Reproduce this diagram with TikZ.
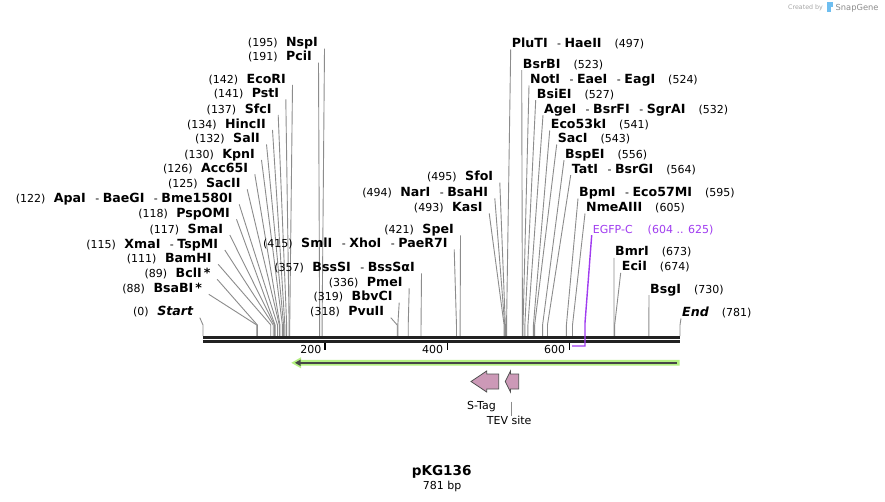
\documentclass[tikz,border=0pt]{standalone}
\usepackage{fontspec}
\setmainfont{DejaVu Sans}
\usetikzlibrary{calc}
\definecolor{connc}{RGB}{140,140,140}
\definecolor{barc}{RGB}{34,34,34}
\definecolor{egfpc}{RGB}{160,60,240}
\definecolor{orfg}{RGB}{180,240,130}
\definecolor{orfd}{RGB}{70,70,70}
\definecolor{featc}{RGB}{204,153,183}
\definecolor{featl}{RGB}{80,80,80}
\definecolor{sgblue}{RGB}{110,190,240}
\newcommand\NB[1]{{\fontsize{12.6bp}{14bp}\selectfont\bfseries #1}}
\newcommand\SEP{\hspace{9.5bp}-\hspace{3.5bp}}
% left-type label: name, position, text, x of text end, y centre
\newcommand\LL[5]{%
  \node[lab,anchor=base east] (#1) at (#4,#5+4.2) {(#2)\hspace{8.5bp}#3};
  \coordinate (#1p) at ({203+#2*0.61076},325);
  \draw[cline] ([shift={(6.5,1.8)}]#1.base east) -- (#1p) -- ++(0,11);
}
% right-type label: name, position, text, x of text start, y centre
\newcommand\RL[5]{%
  \node[lab,anchor=base west] (#1) at (#4,#5+4.2) {#3\hspace{13bp}(#2)};
  \coordinate (#1p) at ({203+#2*0.61076},325);
  \draw[cline] ([shift={(-1,2)}]#1.base west) -- (#1p) -- ++(0,11);
}
\begin{document}
\begin{tikzpicture}[x=1bp,y=-1bp,
  lab/.style={inner sep=0pt,font=\fontsize{11bp}{13bp}\selectfont},
  cline/.style={draw=connc,line width=0.9bp},
  tickm/.style={draw=black,line width=1.6bp},
  featshape/.style={fill=featc,draw=featl,line width=0.8bp,line join=miter}]
\fill[white] (0,0) rectangle (885,502);
\useasboundingbox (0,0) rectangle (885,502);

% left labels
\LL{nsp}{195}{\NB{NspI}}{318}{42.7}
\LL{pci}{191}{\NB{PciI}}{312}{56.7}
\LL{eco}{142}{\NB{EcoRI}}{286}{79}
\LL{pst}{141}{\NB{PstI}}{279.3}{93.3}
\LL{sfc}{137}{\NB{SfcI}}{271.7}{109}
\LL{hinc}{134}{\NB{HincII}}{266}{124}
\LL{sal}{132}{\NB{SalI}}{260}{138.3}
\LL{kpn}{130}{\NB{KpnI}}{255}{154}
\LL{acc}{126}{\NB{Acc65I}}{248.3}{168.3}
\LL{sactwo}{125}{\NB{SacII}}{240.7}{183.3}
\LL{apa}{122}{\NB{ApaI}\SEP\NB{BaeGI}\SEP\NB{Bme1580I}}{232.7}{198.3}
\LL{psp}{118}{\NB{PspOMI}}{230}{213.3}
\LL{sma}{117}{\NB{SmaI}}{223.3}{229}
\LL{xma}{115}{\NB{XmaI}\SEP\NB{TspMI}}{218.3}{244}
\LL{bam}{111}{\NB{BamHI}}{211.7}{258.3}
\LL{bcl}{89}{\NB{BclI\,*}}{210.7}{273.3}
\LL{bsab}{88}{\NB{BsaBI\,*}}{202.3}{288.3}
\LL{startl}{0}{\NB{\itshape Start}}{193.3}{311.7}

% middle labels
\LL{sfo}{495}{\NB{SfoI}}{493.3}{176.7}
\LL{nar}{494}{\NB{NarI}\SEP\NB{BsaHI}}{488.3}{192.3}
\LL{kas}{493}{\NB{KasI}}{482.7}{207.3}
\LL{spe}{421}{\NB{SpeI}}{454}{229.3}
\LL{sml}{415}{\NB{SmlI}\SEP\NB{XhoI}\SEP\NB{PaeR7I}}{447.7}{243.3}
\LL{bsss}{357}{\NB{BssSI}\SEP\NB{BssSαI}}{415}{267.3}
\LL{pme}{336}{\NB{PmeI}}{402.7}{282.3}
\LL{bbv}{319}{\NB{BbvCI}}{392.7}{296.7}
\LL{pvu}{318}{\NB{PvuII}}{384.3}{311.7}

% right labels
\RL{plu}{497}{\NB{PluTI}\SEP\NB{HaeII}}{511.7}{43.3}
\RL{bsrb}{523}{\NB{BsrBI}}{522.7}{64}
\RL{notl}{524}{\NB{NotI}\SEP\NB{EaeI}\SEP\NB{EagI}}{530}{79.3}
\RL{bsie}{527}{\NB{BsiEI}}{536.7}{94}
\RL{age}{532}{\NB{AgeI}\SEP\NB{BsrFI}\SEP\NB{SgrAI}}{544}{109}
\RL{ecofs}{541}{\NB{Eco53kI}}{550.7}{124.3}
\RL{sac}{543}{\NB{SacI}}{557.7}{138.3}
\RL{bspe}{556}{\NB{BspEI}}{565}{154}
\RL{tat}{564}{\NB{TatI}\SEP\NB{BsrGI}}{571.7}{169}
\RL{bpm}{595}{\NB{BpmI}\SEP\NB{Eco57MI}}{579}{192.3}
\RL{nme}{605}{\NB{NmeAIII}}{586}{207.3}
\RL{bmr}{673}{\NB{BmrI}}{615}{251.7}
\RL{eci}{674}{\NB{EciI}}{621.7}{266.7}
\RL{bsg}{730}{\NB{BsgI}}{650}{289}
\RL{endl}{781}{\NB{\itshape End}}{682}{312.3}

% EGFP-C primer feature
\node[lab,anchor=base west,text=egfpc] (egfp) at (592.7,233.2) {EGFP-C\hspace{15bp}(604 .. 625)};
\coordinate (egfpa) at (585,323);
\coordinate (egfpb) at (585,346);
\coordinate (egfpc) at (572,346);

% sequence bar
\draw[barc,line width=2.7bp] (203,337.3) -- (680,337.3);
\draw[barc,line width=2.7bp] (203,341.3) -- (680,341.3);
\draw[egfpc,line width=1.4bp] ([shift={(-1,2)}]egfp.base west) -- (egfpa) -- (egfpb) -- (egfpc);

% ticks
\draw[tickm] (325.2,342.5) -- (325.2,349.5);
\draw[tickm] (447.3,342.5) -- (447.3,349.5);
\draw[tickm] (569.4,342.5) -- (569.4,349.5);
\node[lab,anchor=base east] (t200) at (321.5,353.3) {200};
\node[lab,anchor=base east] (t400) at (443.3,353.3) {400};
\node[lab,anchor=base east] (t600) at (565.4,353.3) {600};

% ORF arrow
\fill[orfg] (679.5,359.9) -- (301,359.9) -- (301,357.3) -- (291.3,362.8) -- (301,368.3) -- (301,365.7) -- (679.5,365.7) -- cycle;
\draw[orfd,line width=2.3bp] (677,362.8) -- (299,362.8);
\fill[orfd] (295,362.8) -- (300.5,359.6) -- (300.5,366) -- cycle;

% features
\draw[featshape] (471,381.5) -- (486.7,371) -- (486.7,374) -- (498.7,374) -- (498.7,389) -- (486.7,389) -- (486.7,392) -- cycle;
\draw[featshape] (505.3,381.5) -- (510.5,371) -- (510.5,374) -- (518.7,374) -- (518.7,389) -- (510.5,389) -- (510.5,392) -- cycle;
\node[lab,anchor=base] (stag) at (481.5,409) {S-Tag};
\node[lab,anchor=base] (tev) at (509.2,424.3) {TEV site};
\coordinate (tevtop) at (511.3,401.7);
\draw[cline] (tevtop) -- (tevtop |- tev.north);

% title
\node[inner sep=0pt,anchor=base,font=\fontsize{13.6bp}{16bp}\selectfont\bfseries] (title) at (441.7,475.5) {pKG136};
\node[lab,anchor=base] (len) at (442.2,489) {781 bp};

% watermark
\node[inner sep=0pt,anchor=base west,text=black!35,font=\fontsize{6.3bp}{8bp}\selectfont] (cb) at (788,10) {Created by};
\fill[sgblue] (826.5,2.5) rectangle (830.5,12.5);
\fill[sgblue] (830.5,2.5) rectangle (833,7);
\node[inner sep=0pt,anchor=base west,text=black!45,font=\fontsize{8.3bp}{10bp}\selectfont] (sg) at (835.5,10.5) {SnapGene};
\end{tikzpicture}
\end{document}
